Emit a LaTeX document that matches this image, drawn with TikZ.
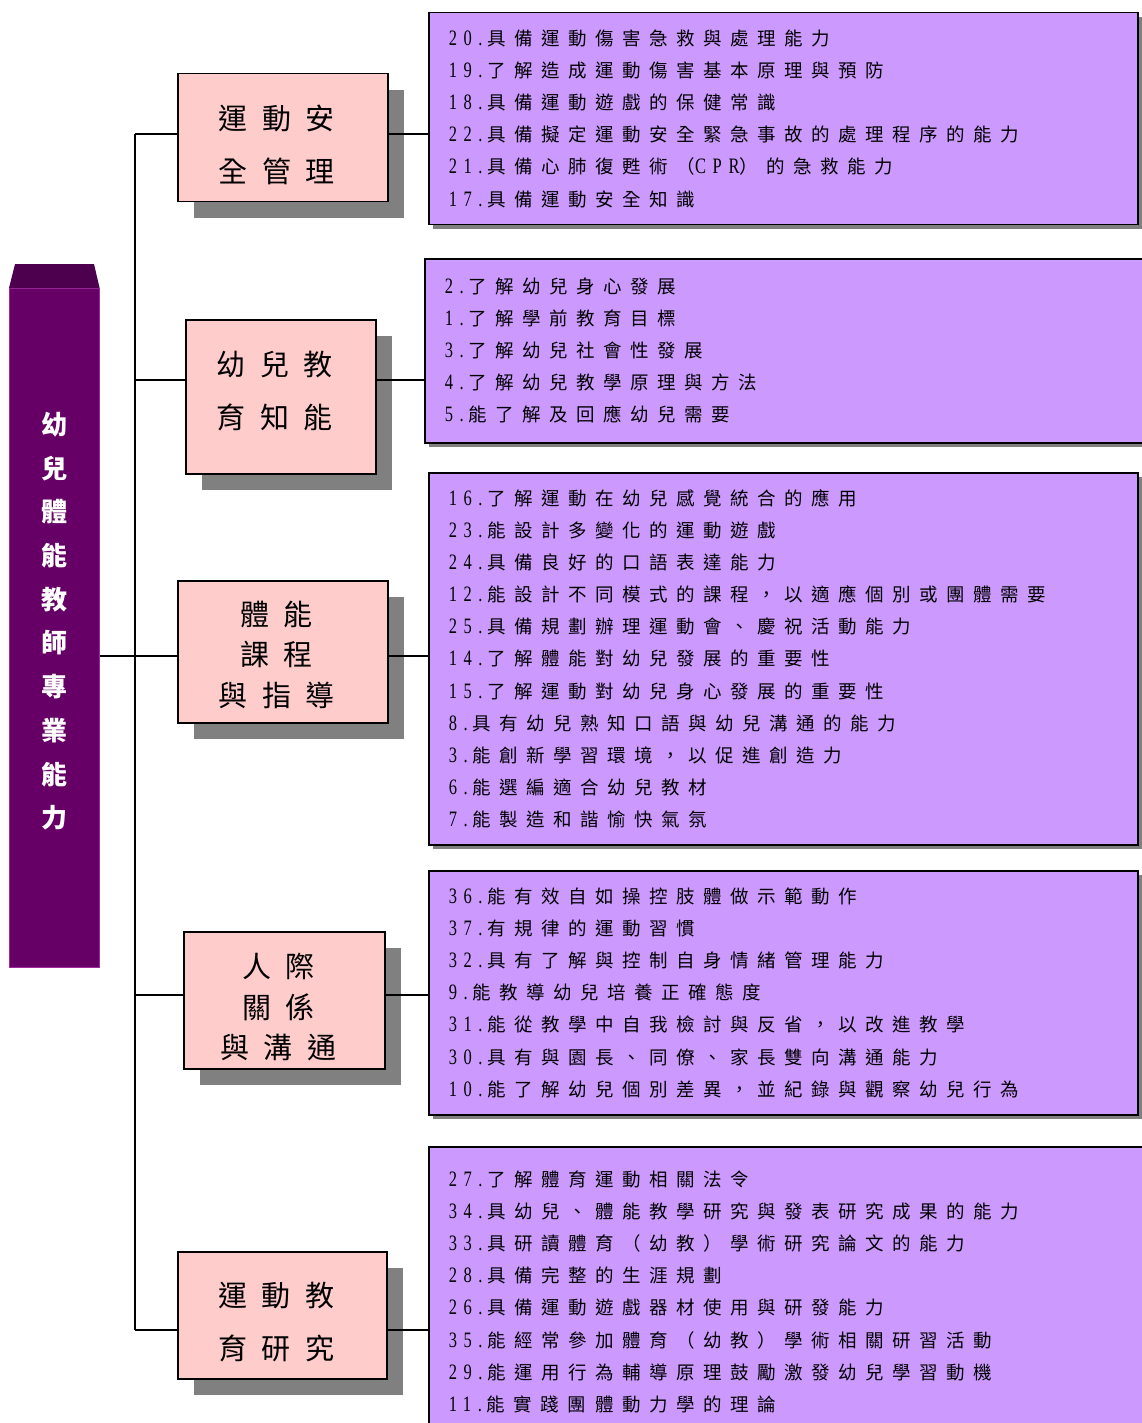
\documentclass[tikz,border=0pt]{standalone}
\usepackage{fontspec}
\newfontfamily\cjk{Noto Sans CJK TC}
\newfontfamily\cjkwide{Noto Sans CJK TC}[LetterSpace=46]
\newfontfamily\cjkbig{Noto Sans CJK TC}[LetterSpace=50]
\newfontfamily\latinnarrow{Liberation Serif}[FakeStretch=0.75, LetterSpace=30]
\newcommand{\itemno}[1]{{\latinnarrow\fontsize{22}{32.1}\selectfont #1}\hspace{5pt}}
\newcommand{\narrowtext}[1]{{\latinnarrow\fontsize{22}{32.1}\selectfont #1}}
\newcommand{\padr}{\rule{12pt}{0pt}}
\usetikzlibrary{shadows}
\definecolor{rootpurple}{RGB}{102,0,102}
\definecolor{roottop}{RGB}{77,0,77}
\definecolor{rootedge}{RGB}{160,40,160}
\definecolor{catpink}{RGB}{255,204,204}
\definecolor{listlilac}{RGB}{204,153,255}
\definecolor{shadegray}{RGB}{128,128,128}

\begin{document}
\begin{tikzpicture}[x=1pt,y=-1pt,
  catbox/.style={draw, line width=1.5pt, fill=catpink, anchor=north west, inner sep=0pt,
    align=center, font=\cjkbig\fontsize{29}{53}\selectfont,
    drop shadow={shadow xshift=16pt, shadow yshift=-16pt, fill=shadegray, opacity=1}},
  catboxtall/.style={catbox, font=\cjkbig\fontsize{29}{40.5}\selectfont},
  listbox/.style={draw, line width=1.5pt, fill=listlilac, anchor=north west,
    inner xsep=20pt, inner ysep=0pt, align=left, font=\cjkwide\fontsize{18.5}{32.1}\selectfont,
    drop shadow={shadow xshift=4pt, shadow yshift=-4pt, fill=shadegray, opacity=1}},
  wire/.style={line width=1.3pt}
]
\useasboundingbox (0,0) rectangle (1141,1423);

\node[fill=rootpurple, draw=rootedge, line width=0.6pt, anchor=north west, inner sep=0pt,
  minimum width=90pt, minimum height=679pt, text=white, align=center,
  font=\cjk\bfseries\fontsize{26}{43.7}\selectfont] (0) at (9,288)
{幼\\兒\\體\\能\\教\\師\\專\\業\\能\\力\\[-28pt]};
\fill[roottop] (0.north west) -- ++(6,-24) -- ++(79,0) -- (0.north east) -- cycle;

\node[catbox, minimum width=210pt, minimum height=128pt] (c1) at (177,73)
{運動安\padr\\全管理\padr\\[-65pt]};

\node[catbox, minimum width=190pt, minimum height=154pt] (c2) at (185,319)
{幼兒教\padr\\育知能\padr\\[-39pt]};

\node[catboxtall, minimum width=210pt, minimum height=142pt] (c3) at (177,580)
{體能\padr\\課程\padr\\與指導\padr\\[-44.5pt]};

\node[catboxtall, minimum width=201pt, minimum height=137pt] (c4) at (183,931)
{人際\padr\\關係\padr\\與溝通\padr\\[-52.5pt]};

\node[catbox, minimum width=209pt, minimum height=127pt] (c5) at (177,1251)
{運動教\padr\\育研究\padr\\[-65pt]};

\node[listbox, text width=669pt, minimum height=212pt] (l1) at (428,12)
{\itemno{20.}具備運動傷害急救與處理能力\\
\itemno{19.}了解造成運動傷害基本原理與預防\\
\itemno{18.}具備運動遊戲的保健常識\\
\itemno{22.}具備擬定運動安全緊急事故的處理程序的能力\\
\itemno{21.}具備心肺復甦術（\narrowtext{CPR}）的急救能力\\
\itemno{17.}具備運動安全知識};

\node[listbox, text width=682pt, minimum height=184pt] (l2) at (424,258)
{\itemno{2.}了解幼兒身心發展\\
\itemno{1.}了解學前教育目標\\
\itemno{3.}了解幼兒社會性發展\\
\itemno{4.}了解幼兒教學原理與方法\\
\itemno{5.}能了解及回應幼兒需要};

\node[listbox, text width=669pt, minimum height=372pt] (l3) at (428,472)
{\itemno{16.}了解運動在幼兒感覺統合的應用\\
\itemno{23.}能設計多變化的運動遊戲\\
\itemno{24.}具備良好的口語表達能力\\
\itemno{12.}能設計不同模式的課程，以適應個別或團體需要\\
\itemno{25.}具備規劃辦理運動會、慶祝活動能力\\
\itemno{14.}了解體能對幼兒發展的重要性\\
\itemno{15.}了解運動對幼兒身心發展的重要性\\
\itemno{8.}具有幼兒熟知口語與幼兒溝通的能力\\
\itemno{3.}能創新學習環境，以促進創造力\\
\itemno{6.}能選編適合幼兒教材\\
\itemno{7.}能製造和諧愉快氣氛};

\node[listbox, text width=669pt, minimum height=244pt] (l4) at (428,870)
{\itemno{36.}能有效自如操控肢體做示範動作\\
\itemno{37.}有規律的運動習慣\\
\itemno{32.}具有了解與控制自身情緒管理能力\\
\itemno{9.}能教導幼兒培養正確態度\\
\itemno{31.}能從教學中自我檢討與反省，以改進教學\\
\itemno{30.}具有與園長、同僚、家長雙向溝通能力\\
\itemno{10.}能了解幼兒個別差異，並紀錄與觀察幼兒行為};

\node[listbox, text width=675pt, minimum height=290pt] (l5) at (428,1146)
{\itemno{27.}了解體育運動相關法令\\
\itemno{34.}具幼兒、體能教學研究與發表研究成果的能力\\
\itemno{33.}具研讀體育（幼教）學術研究論文的能力\\
\itemno{28.}具備完整的生涯規劃\\
\itemno{26.}具備運動遊戲器材使用與研發能力\\
\itemno{35.}能經常參加體育（幼教）學術相關研習活動\\
\itemno{29.}能運用行為輔導原理鼓勵激發幼兒學習動機\\
\itemno{11.}能實踐團體動力學的理論};

\coordinate (t1) at (135,134);
\coordinate (t2) at (135,380);
\coordinate (t3) at (135,656);
\coordinate (t4) at (135,995);
\coordinate (t5) at (135,1330);

\draw[wire] (t1) -- (t5);
\draw[wire] (0.east |- t3) -- (t3);

\draw[wire] (t1) -- (t1 -| c1.west);
\draw[wire] (t2) -- (t2 -| c2.west);
\draw[wire] (t3) -- (t3 -| c3.west);
\draw[wire] (t4) -- (t4 -| c4.west);
\draw[wire] (t5) -- (t5 -| c5.west);

\draw[wire] (c1.east |- t1) -- (l1.west |- t1);
\draw[wire] (c2.east |- t2) -- (l2.west |- t2);
\draw[wire] (c3.east |- t3) -- (l3.west |- t3);
\draw[wire] (c4.east |- t4) -- (l4.west |- t4);
\draw[wire] (c5.east |- t5) -- (l5.west |- t5);
\end{tikzpicture}
\end{document}
